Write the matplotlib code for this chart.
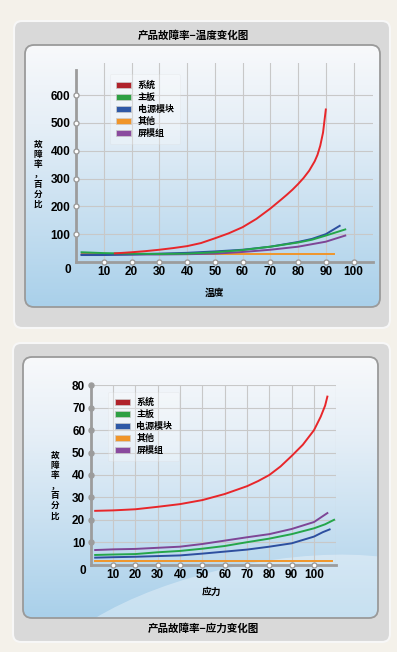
import numpy as np
import matplotlib
matplotlib.use("Agg")
import matplotlib.pyplot as plt
from matplotlib.patches import FancyBboxPatch, Patch, Ellipse
from matplotlib.colors import LinearSegmentedColormap

plt.rcParams['font.family'] = ['Noto Sans CJK SC', 'DejaVu Sans']

# 图例 / 系列名称
series = ['系统', '主板', '电源模块', '其他', '屏模组']
line_colors = ['#e8262a', '#25a64a', '#2d4f9f', '#f0962a', '#7e4596']
patch_colors = ['#b0222a', '#2ea043', '#2e58a6', '#f0952a', '#8a4a9e']

# 温度图数据
t_sys_x = [14, 20, 25, 30, 35, 40, 45, 50, 55, 60, 65, 70, 74, 76, 78, 80, 82, 84, 86, 87, 88, 89, 90]
t_sys_y = [31, 35, 39, 44, 50, 57, 68, 85, 103, 125, 155, 192, 225, 242, 260, 280, 302, 328, 362, 385, 418, 465, 548]
t_board_x = [2, 10, 20, 30, 40, 50, 60, 70, 80, 85, 90, 97]
t_board_y = [35, 32, 30, 29, 30, 35, 43, 55, 70, 80, 95, 117]
t_power_x = [2, 10, 20, 30, 40, 50, 60, 70, 80, 85, 90, 95]
t_power_y = [25, 25, 27, 30, 33, 38, 44, 55, 72, 83, 100, 130]
t_other_x = [2, 93]
t_other_y = [27, 27]
t_screen_x = [2, 10, 20, 30, 40, 50, 60, 70, 80, 90, 97]
t_screen_y = [27, 27, 27, 27, 28, 30, 36, 44, 55, 73, 95]

# 应力图数据
s_sys_x = [2, 10, 20, 30, 40, 50, 60, 70, 75, 80, 85, 90, 95, 100, 103, 105, 106]
s_sys_y = [24, 24.2, 24.7, 25.8, 27, 28.8, 31.5, 35, 37.3, 40, 43.8, 48.5, 53.5, 60, 66, 71, 75]
s_board_x = [2, 10, 20, 30, 40, 50, 60, 70, 80, 90, 100, 105, 109]
s_board_y = [4.3, 4.5, 4.7, 5.5, 6.1, 7.1, 8.3, 10, 11.6, 13.6, 16.2, 18, 20]
s_power_x = [2, 10, 20, 30, 40, 50, 60, 70, 80, 90, 100, 104, 107]
s_power_y = [3.1, 3.3, 3.5, 3.8, 4.1, 4.9, 5.8, 6.7, 8, 9.5, 12.5, 14.5, 15.7]
s_other_x = [2, 108]
s_other_y = [1.8, 1.8]
s_screen_x = [2, 10, 20, 30, 40, 50, 60, 70, 80, 90, 100, 106]
s_screen_y = [6.5, 6.8, 7, 7.5, 8, 9.2, 10.7, 12.2, 13.6, 15.9, 19, 23]

W, H = 397, 652
fig = plt.figure(figsize=(W / 100, H / 100), dpi=100)
fig.patch.set_facecolor('#f4f1ea')

bg = fig.add_axes([0, 0, 1, 1])
bg.set_xlim(0, W)
bg.set_ylim(H, 0)
bg.axis('off')

grad = LinearSegmentedColormap.from_list('g', [(0, '#f8f9fb'), (0.3, '#e6eff7'), (1, '#a9d0ea')])


def panel(x0, y0, x1, y1, ix0, iy0, ix1, iy1, swoosh=False):
    outer = FancyBboxPatch((x0, y0), x1 - x0, y1 - y0, boxstyle='round,pad=0,rounding_size=8',
                           fc='#d9d9d9', ec='#f7f7f7', lw=1.5, zorder=1)
    bg.add_patch(outer)
    inner = FancyBboxPatch((ix0, iy0), ix1 - ix0, iy1 - iy0, boxstyle='round,pad=0,rounding_size=9',
                           fc='none', ec='#9a9a9a', lw=1.3, zorder=3)
    bg.add_patch(inner)
    g = np.linspace(0, 1, 256).reshape(-1, 1)
    im = bg.imshow(g, cmap=grad, extent=[ix0, ix1, iy1, iy0], aspect='auto', zorder=2)
    im.set_clip_path(inner)
    if swoosh:
        e = Ellipse((250, 640), 420, 150, angle=-12, fc='white', ec='none', alpha=0.35, zorder=2.5)
        bg.add_patch(e)
        e.set_clip_path(inner)


panel(14, 21, 390, 328, 25, 45, 380, 307)
panel(13, 343, 390, 642, 23, 357, 378, 618, swoosh=True)
bg.set_xlim(0, W)
bg.set_ylim(H, 0)

bg.text(193, 36, '产品故障率−温度变化图', ha='center', va='center', fontsize=7.6, fontweight='bold')
bg.text(203, 629, '产品故障率−应力变化图', ha='center', va='center', fontsize=7.6, fontweight='bold')


def make_axes(left, right, top, bottom):
    return fig.add_axes([left / W, 1 - bottom / H, (right - left) / W, (bottom - top) / H])


num_font = dict(family='Liberation Sans', weight='bold', size=8.5)
grid_c = '#c8c8c8'
axis_c = '#9c9c9c'
ylab = '故\n障\n率\n，\n百\n分\n比'


def style(ax, xt, yt, ymax_axis, ytick_face):
    ax.patch.set_alpha(0)
    for s in ['top', 'right']:
        ax.spines[s].set_visible(False)
    for s in ['left', 'bottom']:
        ax.spines[s].set_color(axis_c)
        ax.spines[s].set_linewidth(2)
        ax.spines[s].set_zorder(5)
    ax.spines['left'].set_bounds(0, ymax_axis)
    ax.set_xticks(xt)
    ax.set_yticks(yt)
    ax.set_xticklabels([str(v) for v in xt], fontdict=num_font)
    ax.set_yticklabels([str(v) for v in yt], fontdict=num_font)
    ax.tick_params(length=0, pad=4)
    ax.tick_params(axis='x', pad=3)
    ax.grid(True, color=grid_c, lw=0.8)
    ax.set_axisbelow(True)
    ax.plot(xt, [0] * len(xt), 'o', ms=3.6, mfc='white', mec=axis_c, mew=1, clip_on=False, zorder=6)
    ax.plot([0] * len(yt), yt, 'o', ms=3.6, mfc=ytick_face, mec=axis_c, mew=1, clip_on=False, zorder=6)


def legend(ax, anchor):
    handles = [Patch(fc=c, ec='#cccccc', lw=0.5) for c in patch_colors]
    leg = ax.legend(handles, series, loc='upper left', bbox_to_anchor=anchor,
                    handlelength=1.7, handleheight=0.7, handletextpad=0.7, labelspacing=0.32,
                    borderpad=0.7, fancybox=True, framealpha=0.25, facecolor='white', edgecolor='#d8d8d8',
                    prop={'weight': 'bold', 'size': 6.5})
    leg.get_frame().set_linewidth(0.6)
    leg.set_zorder(7)


# 温度图
ax1 = make_axes(76, 373, 63, 262)
ax1.set_xlim(0, 107)
ax1.set_ylim(0, 715)
style(ax1, list(range(10, 101, 10)), list(range(100, 601, 100)), 690, 'white')
ax1.plot(t_other_x, t_other_y, color=line_colors[3], lw=1.4, zorder=3)
ax1.plot(t_screen_x, t_screen_y, color=line_colors[4], lw=1.4, zorder=3)
ax1.plot(t_power_x, t_power_y, color=line_colors[2], lw=1.4, zorder=3)
ax1.plot(t_board_x, t_board_y, color=line_colors[1], lw=1.4, zorder=3)
ax1.plot(t_sys_x, t_sys_y, color=line_colors[0], lw=1.4, zorder=3)
ax1.text(-3, -28, '0', ha='center', va='center', fontdict=num_font)
ax1.text(0.465, -0.155, '温度', transform=ax1.transAxes, ha='center', va='center', fontsize=7, fontweight='bold')
ax1.text(-0.128, 0.44, ylab, transform=ax1.transAxes, ha='center', va='center',
         fontsize=6.2, fontweight='bold', linespacing=1.15)
legend(ax1, (0.098, 0.965))

# 应力图
ax2 = make_axes(90.7, 336.3, 385.4, 564.6)
ax2.set_xlim(0, 110)
ax2.set_ylim(0, 80)
style(ax2, list(range(10, 101, 10)), list(range(10, 81, 10)), 80, '#9c9c9c')
ax2.axvline(110, color=grid_c, lw=0.8, zorder=0)
ax2.plot(s_other_x, s_other_y, color=line_colors[3], lw=1.4, zorder=3)
ax2.plot(s_power_x, s_power_y, color=line_colors[2], lw=1.4, zorder=3)
ax2.plot(s_board_x, s_board_y, color=line_colors[1], lw=1.4, zorder=3)
ax2.plot(s_screen_x, s_screen_y, color=line_colors[4], lw=1.4, zorder=3)
ax2.plot(s_sys_x, s_sys_y, color=line_colors[0], lw=1.4, zorder=3)
ax2.text(-3.5, -3, '0', ha='center', va='center', fontdict=num_font)
ax2.text(0.49, -0.15, '应力', transform=ax2.transAxes, ha='center', va='center', fontsize=7, fontweight='bold')
ax2.text(-0.145, 0.44, ylab, transform=ax2.transAxes, ha='center', va='center',
         fontsize=6.2, fontweight='bold', linespacing=1.15)
legend(ax2, (0.054, 0.991))

fig.savefig('out.png', dpi=100, facecolor=fig.get_facecolor())
